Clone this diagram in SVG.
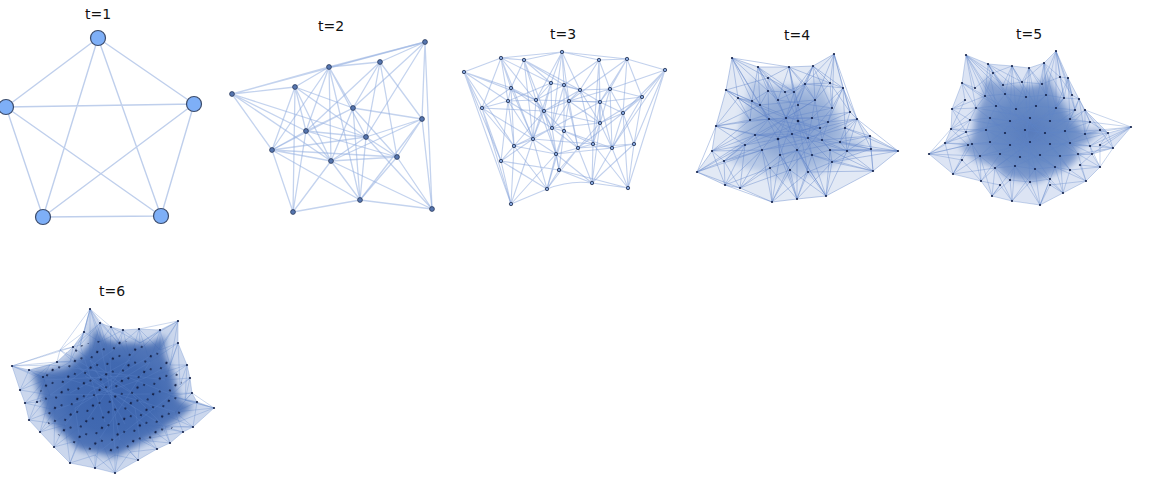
<svg xmlns="http://www.w3.org/2000/svg" width="1166" height="480" viewBox="0 0 1166 480">
<style>
.lbl{font-family:"DejaVu Sans","Noto Sans",sans-serif;font-size:14px;text-anchor:middle;fill:#111}
.e1{stroke:#bfcfec;stroke-width:1.4;fill:none}
.e2{stroke:#94afe0;stroke-opacity:.55;stroke-width:1.3;fill:none}
.e3{stroke:#86a3dc;stroke-opacity:.5;stroke-width:1.1;fill:none}
.ed4{stroke:#5f84c8;stroke-opacity:.42;stroke-width:1;fill:none}
.ed5{stroke:#5f84c8;stroke-opacity:.38;stroke-width:.9;fill:none}
.ed6{stroke:#5f84c8;stroke-opacity:.35;stroke-width:.9;fill:none}
.n1{fill:#7eaff7;stroke:#3b4b6b;stroke-width:1.2}
.n2{fill:#5676b0;stroke:#27375a;stroke-width:.8}
.n3{fill:#86a6dc;stroke:#1f2f50;stroke-width:.8}
.nd{fill:#14224a}
</style>
<defs>
<radialGradient id="g4"><stop offset="0" stop-color="#4a72b8" stop-opacity=".5"/><stop offset=".6" stop-color="#4a72b8" stop-opacity=".32"/><stop offset="1" stop-color="#4a72b8" stop-opacity="0"/></radialGradient>
<radialGradient id="g5"><stop offset="0" stop-color="#4169b2" stop-opacity=".65"/><stop offset=".6" stop-color="#4570b6" stop-opacity=".45"/><stop offset="1" stop-color="#4a72b8" stop-opacity="0"/></radialGradient>
<radialGradient id="g6"><stop offset="0" stop-color="#3b63ad" stop-opacity=".95"/><stop offset=".6" stop-color="#3d66af" stop-opacity=".8"/><stop offset="1" stop-color="#4a72b8" stop-opacity="0"/></radialGradient>
<filter id="soft" x="-20%" y="-20%" width="140%" height="140%"><feGaussianBlur stdDeviation="3.5"/></filter>
<pattern id="dots6" width="17" height="17" patternUnits="userSpaceOnUse" patternTransform="rotate(23)"><circle cx="3" cy="4" r="1.1" fill="#14224a"/><circle cx="11" cy="9" r="1" fill="#14224a"/><circle cx="6" cy="14" r="1.2" fill="#14224a"/></pattern>
</defs>
<rect width="1166" height="480" fill="#fff"/>

<g id="labels">
<text class="lbl" x="98" y="19">t=1</text>
<text class="lbl" x="331" y="31">t=2</text>
<text class="lbl" x="563" y="39">t=3</text>
<text class="lbl" x="797" y="40">t=4</text>
<text class="lbl" x="1029" y="39">t=5</text>
<text class="lbl" x="112" y="296">t=6</text>
</g>

<g id="connectors">
<g id="edges-t1" class="e1">
<path d="M98 38L6 107M98 38L194 104M98 38L43 217M98 38L161 216M6 107L194 104M6 107L43 217M6 107L161 216M194 104L43 217M194 104L161 216M43 217L161 216"/>
</g>
<g id="edges-t2" class="e2">
<path d="M232 94L425 42M232 94L329 67M232 94L295 87M232 94L272 150M232 94L306 131M232 94L366 137M232 94L331 161"/>
<path d="M425 42L380 62M425 42L329 67M425 42L422 119M425 42L353 108M425 42L366 137M425 42L432 209"/>
<path d="M380 62L329 67M380 62L353 108M380 62L366 137M380 62L422 119M380 62L397 157M380 62L306 131"/>
<path d="M329 67L295 87M329 67L306 131M329 67L331 161M329 67L353 108M329 67L366 137M329 67L272 150M329 67L360 200"/>
<path d="M295 87L306 131M295 87L331 161M295 87L272 150M295 87L293 212M295 87L366 137M295 87L353 108"/>
<path d="M353 108L306 131M353 108L422 119M353 108L272 150M353 108L360 200M353 108L397 157M353 108L331 161"/>
<path d="M422 119L397 157M422 119L366 137M422 119L432 209M422 119L331 161M422 119L360 200"/>
<path d="M306 131L272 150M306 131L366 137M306 131L331 161M306 131L293 212M306 131L397 157"/>
<path d="M366 137L331 161M366 137L397 157M366 137L360 200M366 137L432 209M366 137L272 150"/>
<path d="M272 150L331 161M272 150L293 212M272 150L360 200M272 150L397 157M331 161L397 157M331 161L360 200M331 161L293 212M331 161L432 209"/>
<path d="M397 157L360 200M397 157L432 209M360 200L293 212M360 200L432 209"/>
</g>
<g id="edges-t3" class="e3">
<path d="M562 52L501 58M562 52L524 60M562 52L599 60M562 52L551 83M562 52L564 85M562 52L580 90M562 52L569 101M562 52L552 128M562 52L627 59M562 52L536 100"/>
<path d="M501 58L524 60M501 58L464 72M501 58L511 88M501 58L508 101M501 58L551 83M501 58L482 108M501 58L544 111M501 58L533 139"/>
<path d="M524 60L551 83M524 60L511 88M524 60L536 100M524 60L564 85M524 60L544 111M524 60L533 139M524 60L580 90"/>
<path d="M599 60L627 59M599 60L580 90M599 60L610 89M599 60L600 102M599 60L564 85M599 60L600 123M599 60L593 144"/>
<path d="M627 59L665 70M627 59L610 89M627 59L642 97M627 59L600 102M627 59L623 113M627 59L569 101"/>
<path d="M464 72L482 108M464 72L511 88M464 72L508 101M464 72L501 161M464 72L514 146M464 72L511 204M464 72L536 100"/>
<path d="M665 70L642 97M665 70L623 113M665 70L634 144M665 70L610 89M665 70L612 148M665 70L628 188"/>
<path d="M551 83L564 85M551 83L536 100M551 83L544 111M551 83L552 128M551 83L580 90M551 83L533 139M551 83L508 101"/>
<path d="M564 85L580 90M564 85L569 101M564 85L564 131M564 85L552 128M564 85L578 148M564 85L536 100"/>
<path d="M511 88L508 101M511 88L536 100M511 88L544 111M511 88L514 146M511 88L533 139M511 88L482 108"/>
<path d="M580 90L610 89M580 90L569 101M580 90L600 102M580 90L600 123M580 90L593 144M580 90L544 111"/>
<path d="M610 89L642 97M610 89L600 102M610 89L623 113M610 89L600 123M610 89L612 148M610 89L569 101"/>
<path d="M642 97L623 113M642 97L634 144M642 97L612 148M642 97L600 102M642 97L600 123"/>
<path d="M508 101L536 100M508 101L482 108M508 101L533 139M508 101L514 146M508 101L501 161M508 101L552 128"/>
<path d="M536 100L569 101M536 100L544 111M536 100L552 128M536 100L533 139M536 100L556 154M536 100L600 102"/>
<path d="M569 101L600 102M569 101L564 131M569 101L552 128M569 101L578 148M569 101L600 123M569 101L544 111"/>
<path d="M600 102L623 113M600 102L600 123M600 102L593 144M600 102L612 148M600 102L552 128"/>
<path d="M482 108L514 146M482 108L501 161M482 108L533 139M482 108L511 204M482 108L544 111"/>
<path d="M544 111L552 128M544 111L533 139M544 111L556 154M544 111L564 131M544 111L514 146M544 111L600 123"/>
<path d="M623 113L600 123M623 113L612 148M623 113L634 144M623 113L628 188M623 113L578 148"/>
<path d="M600 123L593 144M600 123L578 148M600 123L612 148M600 123L592 183M600 123L552 128"/>
<path d="M552 128L564 131M552 128L533 139M552 128L556 154M552 128L559 170M552 128L578 148M552 128L514 146"/>
<path d="M564 131L578 148M564 131L556 154M564 131L559 170M564 131L593 144M564 131L547 189M564 131L612 148"/>
<path d="M533 139L514 146M533 139L556 154M533 139L547 189M533 139L511 204M533 139L501 161M533 139L593 144"/>
<path d="M593 144L578 148M593 144L612 148M593 144L592 183M593 144L628 188M593 144L556 154"/>
<path d="M578 148L559 170M578 148L592 183M578 148L547 189M578 148L634 144M612 148L634 144M612 148L592 183M612 148L628 188M612 148L556 154"/>
<path d="M634 144L628 188M634 144L592 183M514 146L501 161M514 146L511 204M514 146L556 154M514 146L547 189"/>
<path d="M556 154L559 170M556 154L547 189M556 154L511 204M556 154L592 183M501 161L511 204M501 161L547 189M501 161L559 170"/>
<path d="M559 170L592 183M559 170L547 189M559 170L628 188M592 183L628 188M547 189Q570 180 592 183M547 189L511 204"/>
</g>

<g id="edges-t4" class="ed4">
<polygon points="732,58 758,67 789,67 813,66 834,54 843,88 857,119 870,136 898,151 873,171 826,196 797,199 772,202 740,188 725,185 697,172 712,151 716,126 726,90" fill="#6d90cf" fill-opacity=".2" stroke="none"/>
<polygon points="750.9,79 769.1,85.3 790.8,85.3 807.6,84.6 822.3,76.2 828.6,100 838.4,121.7 847.5,133.6 867.1,144.1 849.6,158.1 816.7,175.6 796.4,177.7 778.9,179.8 756.5,170 746,167.9 726.4,158.8 736.9,144.1 739.7,126.6 746.7,101.4" fill="#5a80c4" fill-opacity=".32" stroke="none" filter="url(#soft)"/>
<ellipse cx="795" cy="128" rx="58" ry="45" fill="url(#g4)" stroke="none"/>
<path d="M732 58L758 67M732 58L738 98M732 58L752 101M732 58L768 91M732 58L768 78M732 58L789 67M732 58L726 90M732 58L760 105M732 58L769 119"/>
<path d="M758 67L789 67M758 67L768 78M758 67L768 91M758 67L794 92M758 67L778 100M758 67L760 105M758 67L752 101M758 67L785 92M758 67L786 118"/>
<path d="M789 67L813 66M789 67L768 78M789 67L805 84M789 67L794 92M789 67L798 105M789 67L778 100M789 67L830 83M789 67L815 100M789 67L798 121"/>
<path d="M813 66L834 54M813 66L805 84M813 66L830 83M813 66L794 92M813 66L815 100M813 66L798 105M813 66L843 88M813 66L832 108M813 66L786 118"/>
<path d="M834 54L843 88M834 54L830 83M834 54L805 84M834 54L832 108M834 54L850 112M834 54L815 100M834 54L857 119"/>
<path d="M843 88L857 119M843 88L830 83M843 88L850 112M843 88L832 108M843 88L845 128M843 88L828 122M843 88L805 84M843 88L812 118"/>
<path d="M857 119L870 136M857 119L845 128M857 119L840 142M857 119L847 151M857 119L850 112M857 119L828 122M857 119L871 149M857 119L898 151M857 119L820 128"/>
<path d="M870 136L898 151M870 136L871 149M870 136L847 151M870 136L845 128M870 136L840 142M870 136L873 171M870 136L822 140"/>
<path d="M898 151L871 149M898 151L873 171M898 151L847 151M898 151L845 128M898 151L840 142M898 151L830 150M898 151L832 162"/>
<path d="M871 149L873 171M871 149L847 151M871 149L832 162M871 149L840 142M871 149L830 150M871 149L822 140"/>
<path d="M873 171L826 196M873 171L832 162M873 171L847 151M873 171L830 150M873 171L812 155M873 171L808 172"/>
<path d="M826 196L797 199M826 196L832 162M826 196L808 172M826 196L812 155M826 196L830 150M826 196L790 170M826 196L797 150M826 196L847 151"/>
<path d="M797 199L772 202M797 199L790 170M797 199L808 172M797 199L780 155M797 199L797 150M797 199L770 168M797 199L832 162M797 199L812 155"/>
<path d="M772 202L740 188M772 202L770 168M772 202L790 170M772 202L780 155M772 202L762 150M772 202L725 185M772 202L797 150M772 202L808 172"/>
<path d="M740 188L725 185M740 188L770 168M740 188L762 150M740 188L724 161M740 188L745 145M740 188L780 155M740 188L790 170"/>
<path d="M725 185L697 172M725 185L724 161M725 185L762 150M725 185L745 145M725 185L770 168M725 185L712 151"/>
<path d="M697 172L712 151M697 172L724 161M697 172L745 145M697 172L755 135M697 172L716 126M697 172L762 150M697 172L740 188"/>
<path d="M712 151L716 126M712 151L724 161M712 151L745 145M712 151L755 135M712 151L750 120M712 151L769 119M712 151L762 150"/>
<path d="M716 126L726 90M716 126L738 98M716 126L750 120M716 126L755 135M716 126L745 145M716 126L769 119M716 126L760 105M716 126L778 139"/>
<path d="M726 90L738 98M726 90L752 101M726 90L750 120M726 90L760 105M726 90L769 119M726 90L768 78"/>
<path d="M768 78L768 91M768 78L778 100M768 78L785 92M768 78L794 92M805 84L794 92M805 84L798 105M805 84L815 100M805 84L785 92M805 84L830 83M830 83L815 100M830 83L832 108M830 83L850 112"/>
<path d="M738 98L752 101M738 98L750 120M738 98L760 105M752 101L768 91M752 101L760 105M752 101L750 120M752 101L769 119M768 91L785 92M768 91L778 100M768 91L760 105M768 91L769 119M794 92L785 92M794 92L798 105M794 92L778 100M794 92L786 118"/>
<path d="M724 161L745 145M724 161L762 150M724 161L755 135M847 151L840 142M847 151L830 150M847 151L845 128M847 151L832 162M832 162L830 150M832 162L812 155M832 162L808 172"/>
<path d="M760 105L798 121L840 142M778 100L792 134L808 172M815 100L786 118L762 150M832 108L797 150L770 168M750 120L812 118L850 112M755 135L808 138L845 128M769 119L822 140L830 150M798 105L780 155L790 170"/>
<path d="M785 92L798 121L812 155M805 84L786 118L755 135M828 122L778 139L745 145M820 128L769 119L738 98M760 105L815 100M778 100L832 108M750 120L798 105M762 150L822 140M780 155L840 142"/>
<path d="M770 168L812 155L830 150M790 170L828 122M808 172L798 121M745 145L786 118L815 100M755 135L792 134L828 122L850 112M769 119L797 150L826 196M760 105L778 139L797 199"/>
<path d="M798 105L808 138L832 162M815 100L822 140L847 151M752 101L792 134L847 151M738 98L786 118L832 108M724 161L778 139L820 128M762 150L808 138L857 119M755 135L820 128M745 145L812 118"/>
<path d="M786 118L812 118M786 118L792 134M798 121L808 138M812 118L828 122M778 139L792 134M792 134L808 138M808 138L822 140M797 150L812 155M780 155L797 150M769 119L786 118M778 139L780 155M798 121L820 128"/>
<path d="M760 105L769 119L755 135L762 150L770 168M778 100L786 118L778 139L780 155L790 170M798 105L798 121L792 134L797 150L808 172M815 100L812 118L808 138L812 155M832 108L828 122L822 140L830 150M850 112L845 128L840 142"/>
</g>

<g id="edges-t5" class="ed5">
<polygon points="966,55 988,64 1012,66 1029,68 1044,63 1056,51 1068,78 1079,99 1085,110 1108,133 1131,127 1113,148 1092,154 1100,167 1086,181 1063,193 1040,205 1012,201 992,196 981,181 953,174 929,154 945,143 951,129 952,109 962,83" fill="#6d90cf" fill-opacity=".24" stroke="none"/>
<polygon points="985.2,77.5 1000.6,83.8 1017.4,85.2 1029.3,86.6 1039.8,83.1 1048.2,74.7 1056.6,93.6 1064.3,108.3 1068.5,116 1084.6,132.1 1100.7,127.9 1088.1,142.6 1073.4,146.8 1079,155.9 1069.2,165.7 1053.1,174.1 1037,182.5 1017.4,179.7 1003.4,176.2 995.7,165.7 976.1,160.8 959.3,146.8 970.5,139.1 974.7,129.3 975.4,115.3 982.4,97.1" fill="#4a72b8" fill-opacity=".6" stroke="none" filter="url(#soft)"/>
<ellipse cx="1030" cy="132" rx="62" ry="50" fill="url(#g5)" stroke="none"/>
<path d="M966 55L988 64M966 55L993 73M966 55L975 88M966 55L962 83M966 55L985 96M966 55L996 106M966 55L1005 94M966 55L1003 85M966 55L976 108M966 55L1010 121"/>
<path d="M988 64L1012 66M988 64L993 73M988 64L1003 85M988 64L1022 82M988 64L985 96M988 64L1005 94M988 64L1026 97M988 64L996 106M988 64L1016 109"/>
<path d="M1012 66L1029 68M1012 66L1003 85M1012 66L1022 82M1012 66L993 73M1012 66L1005 94M1012 66L1026 97M1012 66L1016 109M1012 66L1036 106M1012 66L1010 121"/>
<path d="M1029 68L1044 63M1029 68L1022 82M1029 68L1042 84M1029 68L1026 97M1029 68L1046 95M1029 68L1016 109M1029 68L1036 106M1029 68L1030 118"/>
<path d="M1044 63L1056 51M1044 63L1042 84M1044 63L1060 77M1044 63L1022 82M1044 63L1046 95M1044 63L1064 98M1044 63L1036 106M1044 63L1056 108M1044 63L1050 121"/>
<path d="M1056 51L1068 78M1056 51L1060 77M1056 51L1042 84M1056 51L1064 98M1056 51L1046 95M1056 51L1056 108M1056 51L1072 95M1056 51L1075 110"/>
<path d="M1068 78L1079 99M1068 78L1060 77M1068 78L1072 95M1068 78L1064 98M1068 78L1075 110M1068 78L1056 108M1068 78L1070 119"/>
<path d="M1079 99L1085 110M1079 99L1072 95M1079 99L1075 110M1079 99L1090 122M1079 99L1070 119M1079 99L1064 98M1079 99L1085 134"/>
<path d="M1085 110L1108 133M1085 110L1090 122M1085 110L1100 130M1085 110L1085 134M1085 110L1070 119M1085 110L1065 131"/>
<path d="M1108 133L1131 127M1108 133L1113 148M1108 133L1100 130M1108 133L1090 122M1108 133L1085 134M1108 133L1100 145M1108 133L1090 146M1108 133L1070 143"/>
<path d="M1131 127L1113 148M1131 127L1100 130M1131 127L1100 145M1131 127L1090 122M1131 127L1085 134M1131 127L1092 154M1131 127L1090 146M1131 127L1085 110"/>
<path d="M1113 148L1092 154M1113 148L1100 145M1113 148L1090 146M1113 148L1100 130M1113 148L1100 167M1113 148L1078 154"/>
<path d="M1092 154L1100 167M1092 154L1078 154M1092 154L1090 146M1092 154L1080 165M1092 154L1070 143M1092 154L1060 156"/>
<path d="M1100 167L1086 181M1100 167L1080 165M1100 167L1078 154M1100 167L1070 170M1100 167L1090 146M1100 167L1100 145"/>
<path d="M1086 181L1063 193M1086 181L1080 165M1086 181L1070 170M1086 181L1078 154M1086 181L1055 167M1086 181L1050 185"/>
<path d="M1063 193L1040 205M1063 193L1050 185M1063 193L1050 179M1063 193L1055 167M1063 193L1070 170M1063 193L1035 169M1063 193L1060 156"/>
<path d="M1040 205L1012 201M1040 205L1050 185M1040 205L1030 182M1040 205L1050 179M1040 205L1035 169M1040 205L1015 166M1040 205L1055 167"/>
<path d="M1012 201L992 196M1012 201L1000 185M1012 201L1010 180M1012 201L1030 182M1012 201L1015 166M1012 201L995 168M1012 201L1035 169"/>
<path d="M992 196L981 181M992 196L1000 185M992 196L1010 180M992 196L995 168M992 196L1015 166M992 196L980 156"/>
<path d="M981 181L953 174M981 181L962 160M981 181L1000 185M981 181L995 168M981 181L980 156M981 181L1000 154M981 181L972 144"/>
<path d="M953 174L929 154M953 174L962 160M953 174L980 156M953 174L972 144M953 174L968 145M953 174L995 168M953 174L945 143"/>
<path d="M929 154L945 143M929 154L951 129M929 154L962 160M929 154L968 145M929 154L972 144M929 154L966 132M929 154L980 156"/>
<path d="M945 143L951 129M945 143L968 145M945 143L966 132M945 143L972 144M945 143L970 120M945 143L986 130"/>
<path d="M951 129L952 109M951 129L965 100M951 129L966 132M951 129L970 120M951 129L976 108M951 129L986 130M951 129L968 145"/>
<path d="M952 109L962 83M952 109L965 100M952 109L976 108M952 109L970 120M952 109L985 96M952 109L966 132"/>
<path d="M962 83L975 88M962 83L965 100M962 83L985 96M962 83L976 108M962 83L996 106M993 73L1003 85M993 73L975 88M993 73L985 96M1022 82L1003 85M1022 82L1042 84M1022 82L1026 97M1042 84L1060 77M1042 84L1046 95M1060 77L1072 95M1060 77L1064 98"/>
<path d="M985 96L1045 133L1078 154M1005 94L1025 130L1035 169M1046 95L1005 133L980 156M1064 98L1030 142L995 168M976 108L1050 121L1090 122M970 120L1045 133L1100 130M966 132L1030 118L1075 110M972 144L1050 144L1090 146"/>
<path d="M980 156L1030 142L1070 119M1000 154L1056 108M1016 109L1060 156M1036 106L1020 157M996 106L1070 143M990 118L1065 131M986 130L1055 167M990 142L1046 95M1010 145L1064 98"/>
<path d="M1010 180L1030 118M1050 179L1010 121M1015 166L1085 134M1035 169L990 118M1055 167L976 108M1070 170L1005 94M995 168L1075 110M1030 182L1026 97M1000 154L1090 122M1040 155L985 96"/>
<path d="M985 96L1005 94L1026 97L1046 95L1064 98M976 108L996 106L1016 109L1036 106L1056 108L1075 110M970 120L990 118L1010 121L1030 118L1050 121L1070 119L1090 122M966 132L986 130L1005 133L1025 130L1045 133L1065 131L1085 134L1100 130"/>
<path d="M972 144L990 142L1010 145L1030 142L1050 144L1070 143L1090 146M980 156L1000 154L1020 157L1040 155L1060 156L1078 154M995 168L1015 166L1035 169L1055 167L1070 170M1010 180L1030 182L1050 179"/>
<path d="M985 96L976 108L970 120L966 132L972 144L980 156L995 168L1010 180M1005 94L996 106L990 118L986 130L990 142L1000 154L1015 166L1030 182M1026 97L1016 109L1010 121L1005 133L1010 145L1020 157L1035 169L1050 179"/>
<path d="M1046 95L1036 106L1030 118L1025 130L1030 142L1040 155L1055 167M1064 98L1056 108L1050 121L1045 133L1050 144L1060 156L1070 170M1075 110L1070 119L1065 131L1070 143L1078 154M1090 122L1085 134L1090 146"/>
</g>

<g id="edges-t6" class="ed6">
<polygon points="90,309 100,323 111,327 123,330 139,329 160,330 178,321 178,343 187,365 190,378 192,393 197,402 214,408 193,427 183,432 170,443 157,449 138,460 115,473 95,468 70,463 54,447 40,432 29,420 25,403 20,390 12,366 29,370 57,362 73,347 84,332" fill="#5e84c8" fill-opacity=".32" stroke="none"/>
<path d="M90 309L100 323M90 309L84 332M90 309L80 345M90 309L100 342M90 309L120 345M90 309L60 350M90 309L110 358M90 309L90 360M90 309L111 327"/>
<path d="M100 323L111 327M100 323L100 342M100 323L80 345M100 323L120 345M100 323L90 360M100 323L110 358M100 323L73 347"/>
<path d="M111 327L123 330M111 327L100 342M111 327L120 345M111 327L140 343M111 327L110 358M111 327L130 360"/>
<path d="M123 330L139 329M123 330L120 345M123 330L140 343M123 330L100 342M123 330L130 360M123 330L110 358"/>
<path d="M139 329L160 330M139 329L140 343M139 329L120 345M139 329L160 350M139 329L150 362M139 329L130 360"/>
<path d="M160 330L178 321M160 330L160 350M160 330L140 343M160 330L150 362M160 330L170 365M160 330L130 360"/>
<path d="M178 321L178 343M178 321L160 350M178 321L170 365M178 321L140 343M178 321L150 362M178 321L139 329"/>
<path d="M178 343L187 365M178 343L170 365M178 343L160 350M178 343L165 380M178 343L150 362M178 343L180 385"/>
<path d="M187 365L190 378M187 365L180 385M187 365L170 365M187 365L165 380M187 365L185 400M187 365L145 378"/>
<path d="M190 378L192 393M190 378L180 385M190 378L185 400M190 378L170 396M190 378L165 380"/>
<path d="M192 393L197 402M192 393L185 400M192 393L170 396M192 393L175 412M192 393L150 394"/>
<path d="M197 402L214 408M197 402L185 400M197 402L175 412M197 402L170 396M197 402L193 427"/>
<path d="M214 408L193 427M214 408L185 400M214 408L175 412M214 408L170 396M214 408L165 427M214 408L192 393"/>
<path d="M193 427L183 432M193 427L175 412M193 427L165 427M193 427L155 410M193 427L145 425"/>
<path d="M183 432L170 443M183 432L165 427M183 432L175 412M183 432L145 425M183 432L140 440"/>
<path d="M170 443L157 449M170 443L165 427M170 443L140 440M170 443L145 425M170 443L155 410"/>
<path d="M157 449L138 460M157 449L140 440M157 449L145 425M157 449L130 452M157 449L125 424"/>
<path d="M138 460L115 473M138 460L130 452M138 460L140 440M138 460L120 440M138 460L115 455"/>
<path d="M115 473L95 468M115 473L115 455M115 473L95 455M115 473L130 452M115 473L120 440M115 473L100 438"/>
<path d="M95 468L70 463M95 468L95 455M95 468L80 440M95 468L100 438M95 468L115 455"/>
<path d="M70 463L54 447M70 463L80 440M70 463L95 455M70 463L65 425M70 463L85 423"/>
<path d="M54 447L40 432M54 447L65 425M54 447L80 440M54 447L55 410M54 447L85 423"/>
<path d="M40 432L29 420M40 432L55 410M40 432L65 425M40 432L50 395M40 432L75 408"/>
<path d="M29 420L25 403M29 420L50 395M29 420L55 410M29 420L45 380M29 420L65 425"/>
<path d="M25 403L20 390M25 403L45 380M25 403L50 395M25 403L55 410M25 403L37 402M37 402L50 395M37 402L45 380M37 402L70 393"/>
<path d="M20 390L12 366M20 390L45 380M20 390L50 395M20 390L50 365M20 390L29 370"/>
<path d="M12 366L29 370M12 366L57 362M12 366L50 365M12 366L45 380M12 366L60 350M12 366L43 377M12 366L73 347"/>
<path d="M29 370L50 365M29 370L45 380M29 370L65 378M29 370L43 377M43 377L50 365M43 377L65 378M43 377L70 362M43 377L50 395"/>
<path d="M57 362L73 347M57 362L70 362M57 362L60 350M57 362L50 365M57 362L90 360M73 347L84 332M73 347L60 350M73 347L80 345M73 347L70 362M73 347L90 360"/>
<path d="M84 332L90 309M84 332L80 345M84 332L60 350M84 332L100 342M84 332L70 362"/>
<polygon points="94.4,326.2 102.4,337.4 111.2,340.6 120.8,343 133.6,342.2 150.4,343 164.8,335.8 164.8,353.4 172,371 174.4,381.4 176,393.4 180,400.6 193.6,405.4 176.8,420.6 168.8,424.6 158.4,433.4 148,438.2 132.8,447 114.4,457.4 98.4,453.4 78.4,449.4 65.6,436.6 54.4,424.6 45.6,415 42.4,401.4 38.4,391 32,371.8 68,368.6 80.8,356.6 89.6,344.6" fill="#3d66af" fill-opacity=".88" stroke="none" filter="url(#soft)"/>
<ellipse cx="112" cy="397" rx="72" ry="58" fill="url(#g6)" stroke="none"/>
<path d="M60 350L130 392L165 427M100 342L110 390L120 440M160 350L90 392L65 425M45 380L125 376L185 400M50 395L150 394M55 410L145 378L170 365M70 362L135 408L140 440M150 362L75 408L80 440"/>
<path d="M80 345L105 422M140 343L85 423M65 378L175 412M90 360L155 410M130 360L70 393M110 358L115 455M170 396L95 455M165 380L50 365M50 395L120 345M85 376L165 427M125 424L90 360M145 425L60 350M100 438L150 362"/>
</g>
</g>

<g id="nodes-t1">
<g id="t1-n1"><circle class="n1" cx="98" cy="38" r="7.5"/></g>
<g id="t1-n2"><circle class="n1" cx="6" cy="107" r="7.5"/></g>
<g id="t1-n3"><circle class="n1" cx="194" cy="104" r="7.5"/></g>
<g id="t1-n4"><circle class="n1" cx="43" cy="217" r="7.5"/></g>
<g id="t1-n5"><circle class="n1" cx="161" cy="216" r="7.5"/></g>
</g>

<g id="nodes-t2" class="n2">
<circle cx="425" cy="42" r="2.4"/><circle cx="380" cy="62" r="2.4"/><circle cx="329" cy="67" r="2.4"/><circle cx="295" cy="87" r="2.4"/><circle cx="232" cy="94" r="2.4"/><circle cx="353" cy="108" r="2.4"/><circle cx="422" cy="119" r="2.4"/><circle cx="306" cy="131" r="2.4"/><circle cx="366" cy="137" r="2.4"/><circle cx="272" cy="150" r="2.4"/><circle cx="331" cy="161" r="2.4"/><circle cx="397" cy="157" r="2.4"/><circle cx="360" cy="200" r="2.4"/><circle cx="293" cy="212" r="2.4"/><circle cx="432" cy="209" r="2.4"/>
</g>

<g id="nodes-t3" class="n3">
<circle cx="562" cy="52" r="1.7"/><circle cx="501" cy="58" r="1.7"/><circle cx="524" cy="60" r="1.7"/><circle cx="599" cy="60" r="1.7"/><circle cx="627" cy="59" r="1.7"/><circle cx="464" cy="72" r="1.7"/><circle cx="665" cy="70" r="1.7"/><circle cx="551" cy="83" r="1.7"/><circle cx="564" cy="85" r="1.7"/><circle cx="511" cy="88" r="1.7"/><circle cx="580" cy="90" r="1.7"/><circle cx="610" cy="89" r="1.7"/><circle cx="642" cy="97" r="1.7"/><circle cx="508" cy="101" r="1.7"/><circle cx="536" cy="100" r="1.7"/><circle cx="569" cy="101" r="1.7"/><circle cx="600" cy="102" r="1.7"/><circle cx="482" cy="108" r="1.7"/><circle cx="544" cy="111" r="1.7"/><circle cx="623" cy="113" r="1.7"/><circle cx="600" cy="123" r="1.7"/><circle cx="552" cy="128" r="1.7"/><circle cx="564" cy="131" r="1.7"/><circle cx="533" cy="139" r="1.7"/><circle cx="593" cy="144" r="1.7"/><circle cx="578" cy="148" r="1.7"/><circle cx="612" cy="148" r="1.7"/><circle cx="634" cy="144" r="1.7"/><circle cx="514" cy="146" r="1.7"/><circle cx="556" cy="154" r="1.7"/><circle cx="501" cy="161" r="1.7"/><circle cx="559" cy="170" r="1.7"/><circle cx="592" cy="183" r="1.7"/><circle cx="547" cy="189" r="1.7"/><circle cx="628" cy="188" r="1.7"/><circle cx="511" cy="204" r="1.7"/>
</g>

<g id="nodes-t4" class="nd">
<circle cx="732" cy="58" r="1.1"/><circle cx="758" cy="67" r="1.1"/><circle cx="789" cy="67" r="1.1"/><circle cx="813" cy="66" r="1.1"/><circle cx="834" cy="54" r="1.1"/><circle cx="843" cy="88" r="1.1"/><circle cx="857" cy="119" r="1.1"/><circle cx="870" cy="136" r="1.1"/><circle cx="898" cy="151" r="1.1"/><circle cx="871" cy="149" r="1.1"/><circle cx="873" cy="171" r="1.1"/><circle cx="826" cy="196" r="1.1"/><circle cx="797" cy="199" r="1.1"/><circle cx="772" cy="202" r="1.1"/><circle cx="740" cy="188" r="1.1"/><circle cx="725" cy="185" r="1.1"/><circle cx="697" cy="172" r="1.1"/><circle cx="712" cy="151" r="1.1"/><circle cx="716" cy="126" r="1.1"/><circle cx="726" cy="90" r="1.1"/>
<circle cx="768" cy="78" r="1.1"/><circle cx="805" cy="84" r="1.1"/><circle cx="830" cy="83" r="1.1"/><circle cx="738" cy="98" r="1.1"/><circle cx="752" cy="101" r="1.1"/><circle cx="768" cy="91" r="1.1"/><circle cx="794" cy="92" r="1.1"/><circle cx="724" cy="161" r="1.1"/><circle cx="847" cy="151" r="1.1"/><circle cx="832" cy="162" r="1.1"/>
<circle cx="760" cy="105" r="1.1"/><circle cx="778" cy="100" r="1.1"/><circle cx="798" cy="105" r="1.1"/><circle cx="815" cy="100" r="1.1"/><circle cx="832" cy="108" r="1.1"/><circle cx="750" cy="120" r="1.1"/><circle cx="769" cy="119" r="1.1"/><circle cx="786" cy="118" r="1.1"/><circle cx="798" cy="121" r="1.3"/><circle cx="812" cy="118" r="1.1"/><circle cx="828" cy="122" r="1.1"/><circle cx="845" cy="128" r="1.1"/><circle cx="755" cy="135" r="1.1"/><circle cx="778" cy="139" r="1.3"/><circle cx="792" cy="134" r="1.1"/><circle cx="808" cy="138" r="1.1"/><circle cx="822" cy="140" r="1.1"/><circle cx="840" cy="142" r="1.1"/><circle cx="762" cy="150" r="1.1"/><circle cx="780" cy="155" r="1.1"/><circle cx="797" cy="150" r="1.1"/><circle cx="812" cy="155" r="1.1"/><circle cx="830" cy="150" r="1.1"/><circle cx="770" cy="168" r="1.1"/><circle cx="790" cy="170" r="1.1"/><circle cx="808" cy="172" r="1.1"/><circle cx="850" cy="112" r="1.1"/><circle cx="745" cy="145" r="1.1"/><circle cx="820" cy="128" r="1.1"/><circle cx="785" cy="92" r="1.1"/>
</g>

<g id="nodes-t5" class="nd">
<circle cx="966" cy="55" r="1.1"/><circle cx="988" cy="64" r="1.1"/><circle cx="1012" cy="66" r="1.1"/><circle cx="1029" cy="68" r="1.1"/><circle cx="1044" cy="63" r="1.1"/><circle cx="1056" cy="51" r="1.1"/><circle cx="1068" cy="78" r="1.1"/><circle cx="1079" cy="99" r="1.1"/><circle cx="1085" cy="110" r="1.1"/><circle cx="1108" cy="133" r="1.1"/><circle cx="1131" cy="127" r="1.1"/><circle cx="1113" cy="148" r="1.1"/><circle cx="1092" cy="154" r="1.1"/><circle cx="1100" cy="167" r="1.1"/><circle cx="1086" cy="181" r="1.1"/><circle cx="1063" cy="193" r="1.1"/><circle cx="1040" cy="205" r="1.1"/><circle cx="1012" cy="201" r="1.1"/><circle cx="992" cy="196" r="1.1"/><circle cx="981" cy="181" r="1.1"/><circle cx="953" cy="174" r="1.1"/><circle cx="929" cy="154" r="1.1"/><circle cx="945" cy="143" r="1.1"/><circle cx="951" cy="129" r="1.1"/><circle cx="952" cy="109" r="1.1"/><circle cx="962" cy="83" r="1.1"/>
<circle cx="993" cy="73" r="1.1"/><circle cx="975" cy="88" r="1.1"/><circle cx="1060" cy="77" r="1.1"/><circle cx="1003" cy="85" r="1.1"/><circle cx="1022" cy="82" r="1.1"/><circle cx="1042" cy="84" r="1.1"/><circle cx="965" cy="100" r="1.1"/><circle cx="1072" cy="95" r="1.1"/><circle cx="962" cy="160" r="1.1"/><circle cx="1000" cy="185" r="1.1"/><circle cx="1050" cy="185" r="1.1"/><circle cx="1080" cy="165" r="1.1"/><circle cx="1100" cy="145" r="1.1"/><circle cx="968" cy="145" r="1.1"/>
<circle cx="985" cy="96" r="1.1"/><circle cx="1005" cy="94" r="1.1"/><circle cx="1026" cy="97" r="1.1"/><circle cx="1046" cy="95" r="1.1"/><circle cx="1064" cy="98" r="1.1"/><circle cx="976" cy="108" r="1.1"/><circle cx="996" cy="106" r="1.1"/><circle cx="1016" cy="109" r="1.1"/><circle cx="1036" cy="106" r="1.1"/><circle cx="1056" cy="108" r="1.1"/><circle cx="1075" cy="110" r="1.1"/><circle cx="970" cy="120" r="1.1"/><circle cx="990" cy="118" r="1.1"/><circle cx="1010" cy="121" r="1.1"/><circle cx="1030" cy="118" r="1.1"/><circle cx="1050" cy="121" r="1.1"/><circle cx="1070" cy="119" r="1.1"/><circle cx="1090" cy="122" r="1.1"/><circle cx="966" cy="132" r="1.1"/><circle cx="986" cy="130" r="1.1"/><circle cx="1005" cy="133" r="1.1"/><circle cx="1025" cy="130" r="1.1"/><circle cx="1045" cy="133" r="1.1"/><circle cx="1065" cy="131" r="1.1"/><circle cx="1085" cy="134" r="1.1"/><circle cx="1100" cy="130" r="1.1"/><circle cx="972" cy="144" r="1.1"/><circle cx="990" cy="142" r="1.1"/><circle cx="1010" cy="145" r="1.1"/><circle cx="1030" cy="142" r="1.1"/><circle cx="1050" cy="144" r="1.1"/><circle cx="1070" cy="143" r="1.1"/><circle cx="1090" cy="146" r="1.1"/><circle cx="980" cy="156" r="1.1"/><circle cx="1000" cy="154" r="1.1"/><circle cx="1020" cy="157" r="1.1"/><circle cx="1040" cy="155" r="1.1"/><circle cx="1060" cy="156" r="1.1"/><circle cx="1078" cy="154" r="1.1"/><circle cx="995" cy="168" r="1.1"/><circle cx="1015" cy="166" r="1.1"/><circle cx="1035" cy="169" r="1.1"/><circle cx="1055" cy="167" r="1.1"/><circle cx="1070" cy="170" r="1.1"/><circle cx="1010" cy="180" r="1.1"/><circle cx="1030" cy="182" r="1.1"/><circle cx="1050" cy="179" r="1.1"/>
</g>

<g id="nodes-t6" class="nd">
<ellipse cx="112" cy="397" rx="72" ry="57" fill="url(#dots6)"/>
<circle cx="90" cy="309" r="1.1"/><circle cx="100" cy="323" r="1.1"/><circle cx="111" cy="327" r="1.1"/><circle cx="123" cy="330" r="1.1"/><circle cx="139" cy="329" r="1.1"/><circle cx="160" cy="330" r="1.1"/><circle cx="178" cy="321" r="1.1"/><circle cx="178" cy="343" r="1.1"/><circle cx="187" cy="365" r="1.1"/><circle cx="190" cy="378" r="1.1"/><circle cx="192" cy="393" r="1.1"/><circle cx="197" cy="402" r="1.1"/><circle cx="214" cy="408" r="1.1"/><circle cx="193" cy="427" r="1.1"/><circle cx="183" cy="432" r="1.1"/><circle cx="170" cy="443" r="1.1"/><circle cx="157" cy="449" r="1.1"/><circle cx="138" cy="460" r="1.1"/><circle cx="115" cy="473" r="1.1"/><circle cx="95" cy="468" r="1.1"/><circle cx="70" cy="463" r="1.1"/><circle cx="54" cy="447" r="1.1"/><circle cx="40" cy="432" r="1.1"/><circle cx="29" cy="420" r="1.1"/><circle cx="25" cy="403" r="1.1"/><circle cx="37" cy="402" r="1.1"/><circle cx="20" cy="390" r="1.1"/><circle cx="12" cy="366" r="1.1"/><circle cx="29" cy="370" r="1.1"/><circle cx="43" cy="377" r="1.1"/><circle cx="57" cy="362" r="1.1"/><circle cx="73" cy="347" r="1.1"/><circle cx="84" cy="332" r="1.1"/>
</g>
</svg>
